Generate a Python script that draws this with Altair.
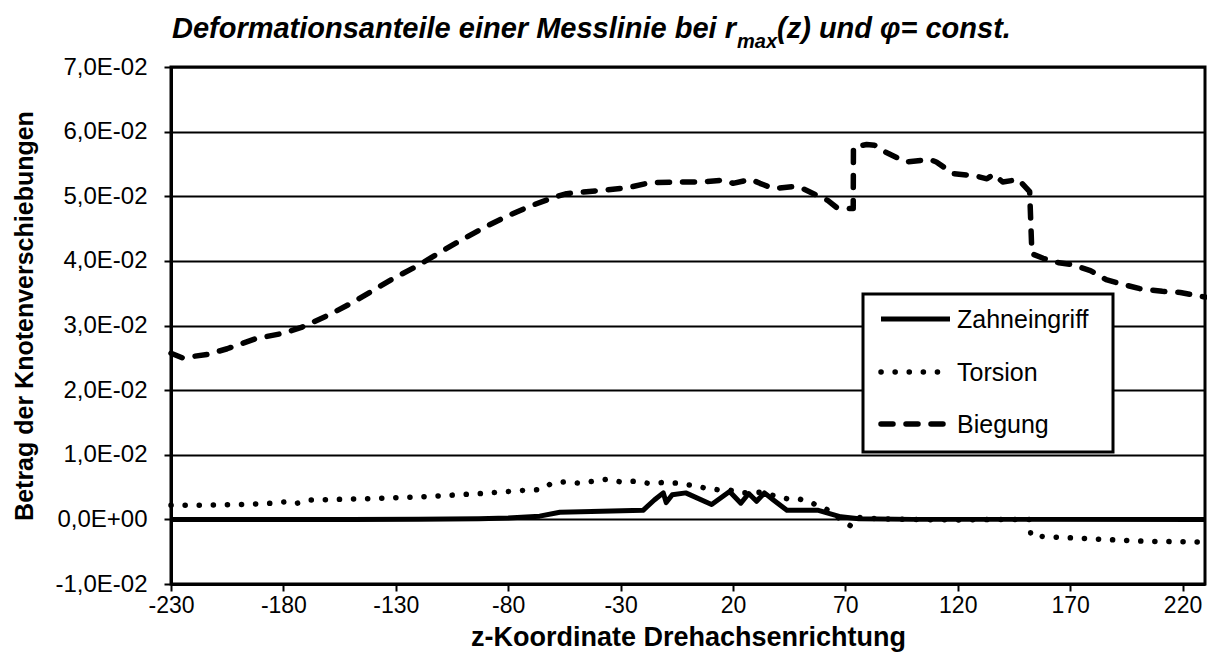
import altair as alt
import pandas as pd

# ---------------- data ----------------
zahn_z = [-230, -150, -120, -93, -80, -66, -57, -20, -15, -11, -9.7, -7, -1, 10.5, 18.5, 23.5, 27, 30.5, 34, 38, 44, 58, 63, 68, 76, 100, 230]
zahn_v = [0.0, 0.0, 0.00002, 0.0001, 0.0002, 0.0005, 0.0011, 0.0014, 0.0030, 0.0041, 0.0026, 0.0038, 0.0041, 0.0023, 0.0043, 0.0025, 0.0040, 0.0028, 0.0041, 0.0030, 0.0014, 0.0014, 0.0009, 0.0004, 0.0001, 0.0, 0.0]

tors_z = [-230, -215, -198, -185, -179, -175, -168, -143, -118, -92, -73, -66, -61, -55, -48, -42, -36, -30, -24, -18, -11, -5, 1, 7, 13, 19, 25, 32, 38, 44, 50, 56, 62, 67.5, 72.8, 76.5, 85, 100, 120, 140, 152, 152.5, 160, 179, 204, 230]
tors_v = [0.0022, 0.0022, 0.0023, 0.0025, 0.0027, 0.0024, 0.0030, 0.0032, 0.0035, 0.0040, 0.0045, 0.0046, 0.0055, 0.0058, 0.0056, 0.0059, 0.0062, 0.0058, 0.0059, 0.0056, 0.0057, 0.0056, 0.0053, 0.0049, 0.0046, 0.0045, 0.0041, 0.0042, 0.0037, 0.0032, 0.0031, 0.0024, 0.0015, 0.0001, -0.0011, 0.0003, 0.0001, 0.0, -0.0001, 0.0, 0.0, -0.0025, -0.0027, -0.0030, -0.0034, -0.0035]

bieg_z = [-230, -225, -214, -205, -192, -180, -172, -160, -149, -131, -120, -110, -101, -90, -80, -70, -60, -54, -39, -27, -17, -5, 5, 16, 20, 28, 32, 38, 47, 51, 57, 62, 66, 72, 73.5, 73.6, 79.5, 83, 87.5, 97, 107.5, 110.5, 118, 128.5, 133, 136, 140, 147, 152, 153, 158, 165, 171, 179, 186, 192, 201, 211, 219, 230]
bieg_v = [0.0257, 0.0250, 0.0255, 0.0264, 0.0280, 0.0288, 0.0297, 0.0316, 0.0336, 0.0373, 0.0393, 0.0414, 0.0432, 0.0453, 0.0470, 0.0485, 0.0498, 0.0504, 0.0509, 0.0513, 0.0521, 0.0522, 0.0522, 0.0525, 0.0520, 0.0526, 0.0520, 0.0512, 0.0515, 0.0512, 0.0502, 0.0494, 0.0483, 0.0481, 0.0481, 0.0576, 0.0580, 0.0579, 0.0569, 0.0553, 0.0557, 0.0553, 0.0535, 0.0531, 0.0527, 0.0534, 0.0522, 0.0526, 0.0507, 0.0411, 0.0404, 0.0397, 0.0394, 0.0385, 0.0371, 0.0365, 0.0357, 0.0353, 0.0351, 0.0344]

series_names = ["Zahneingriff", "Torsion", "Biegung"]
x_ticks = [-230, -180, -130, -80, -30, 20, 70, 120, 170, 220]
y_ticks = [-0.01, 0.0, 0.01, 0.02, 0.03, 0.04, 0.05, 0.06, 0.07]

title_main = "Deformationsanteile einer Messlinie bei r"
title_sub = "max"
title_rest = "(z) und φ= const."
x_title = "z-Koordinate Drehachsenrichtung"
y_title = "Betrag der Knotenverschiebungen"

# ---------------- layout ----------------
W, H = 1034, 517
FONT = "Liberation Sans"
T_SIZE, S_SIZE = 29, 20


def df(z, v):
    return pd.DataFrame({"z": z, "v": v, "i": list(range(len(z)))})


x_enc = alt.X(
    "z:Q",
    scale=alt.Scale(domain=[-230, 230], nice=False, zero=False),
    axis=alt.Axis(
        values=x_ticks, title=x_title, grid=False,
        labelExpr="(datum.value < 0 ? '-' : '') + abs(datum.value)",
        labelFontSize=23, labelPadding=3, labelFlush=False,
        titleFontSize=27, titleFontWeight="bold", titleY=61, titleBaseline="alphabetic",
    ),
)
y_enc = alt.Y(
    "v:Q",
    scale=alt.Scale(domain=[-0.01, 0.07], nice=False, zero=False),
    axis=alt.Axis(
        values=y_ticks, title=y_title, grid=True,
        labelExpr="(datum.value < 0 ? '-' : '') + (datum.value == 0 ? '0,0E+00' : replace(format(abs(datum.value) * 100, '.1f'), '.', ',') + 'E-02')",
        labelFontSize=24, labelPadding=17, labelFlush=False,
        titleFontSize=25, titleFontWeight="bold", titleX=-147, titleY=H / 2 - 10,
        titleAngle=270, titleAlign="center", titleBaseline="middle",
    ),
)

line_zahn = alt.Chart(df(zahn_z, zahn_v)).mark_line(
    color="black", strokeWidth=5, strokeJoin="round"
).encode(x=x_enc, y=y_enc, order="i:Q")

line_tors = alt.Chart(df(tors_z, tors_v)).mark_line(
    color="black", strokeWidth=5.5, strokeDash=[0.1, 14], strokeCap="round", strokeJoin="round"
).encode(x=x_enc, y=y_enc, order="i:Q")

line_bieg = alt.Chart(df(bieg_z, bieg_v)).mark_line(
    color="black", strokeWidth=5.5, strokeDash=[12, 13], strokeCap="round", strokeJoin="round"
).encode(x=x_enc, y=y_enc, order="i:Q")

one = pd.DataFrame({"k": [0]})

# ---------------- manual legend ----------------
LX0, LX1, LY0, LY1 = 692, 942, 227, 385
leg_box = alt.Chart(one).mark_rect(fill="white", stroke="black", strokeWidth=3).encode(
    x=alt.value(LX0), x2=alt.value(LX1), y=alt.value(LY0), y2=alt.value(LY1)
)
row_y = [252, 305, 357]
styles = [
    dict(strokeWidth=5),
    dict(strokeWidth=5.5, strokeDash=[0.1, 14], strokeCap="round"),
    dict(strokeWidth=5.5, strokeDash=[12, 13], strokeCap="round"),
]
leg_layers = [leg_box]
for name, yy, st in zip(series_names, row_y, styles):
    leg_layers.append(
        alt.Chart(one).mark_rule(color="black", **st).encode(
            x=alt.value(710), x2=alt.value(779), y=alt.value(yy)
        )
    )
    leg_layers.append(
        alt.Chart(one).mark_text(
            text=name, font=FONT, fontSize=25, align="left", baseline="middle", color="black"
        ).encode(x=alt.value(786), y=alt.value(yy + 1))
    )

# ---------------- title with subscript ----------------
w1 = 19.45 * T_SIZE
wsub = 2.0 * S_SIZE
w3 = 8.0 * T_SIZE
start_page = 590 - (w1 + wsub + w3) / 2
xr = start_page + w1 - 171
t1 = alt.Chart(one).mark_text(
    text=title_main, font=FONT, fontSize=T_SIZE, fontWeight="bold", fontStyle="italic",
    align="right", baseline="alphabetic", color="black"
).encode(x=alt.value(xr), y=alt.value(-29))
t2 = alt.Chart(one).mark_text(
    text=title_sub, font=FONT, fontSize=S_SIZE, fontWeight="bold", fontStyle="italic",
    align="left", baseline="alphabetic", color="black"
).encode(x=alt.value(xr + 1), y=alt.value(-19))
t3 = alt.Chart(one).mark_text(
    text=title_rest, font=FONT, fontSize=T_SIZE, fontWeight="bold", fontStyle="italic",
    align="left", baseline="alphabetic", color="black"
).encode(x=alt.value(xr + 1 + wsub), y=alt.value(-29))

chart = alt.layer(
    line_zahn, line_tors, line_bieg, *leg_layers, t1, t2, t3
).properties(
    width=W, height=H,
    autosize=alt.AutoSizeParams(type="none"),
    padding={"left": 163, "top": 59, "right": 2, "bottom": 70},
    background="white",
).configure_view(
    stroke="black", strokeWidth=3
).configure_axis(
    labelFont=FONT, titleFont=FONT, labelColor="black", titleColor="black",
    domainColor="black", domainWidth=3, tickColor="black", tickWidth=2, tickSize=7,
    gridColor="black", gridWidth=2, gridOpacity=1,
)

chart.save("out.html", embed_options={"renderer": "svg", "actions": False})
